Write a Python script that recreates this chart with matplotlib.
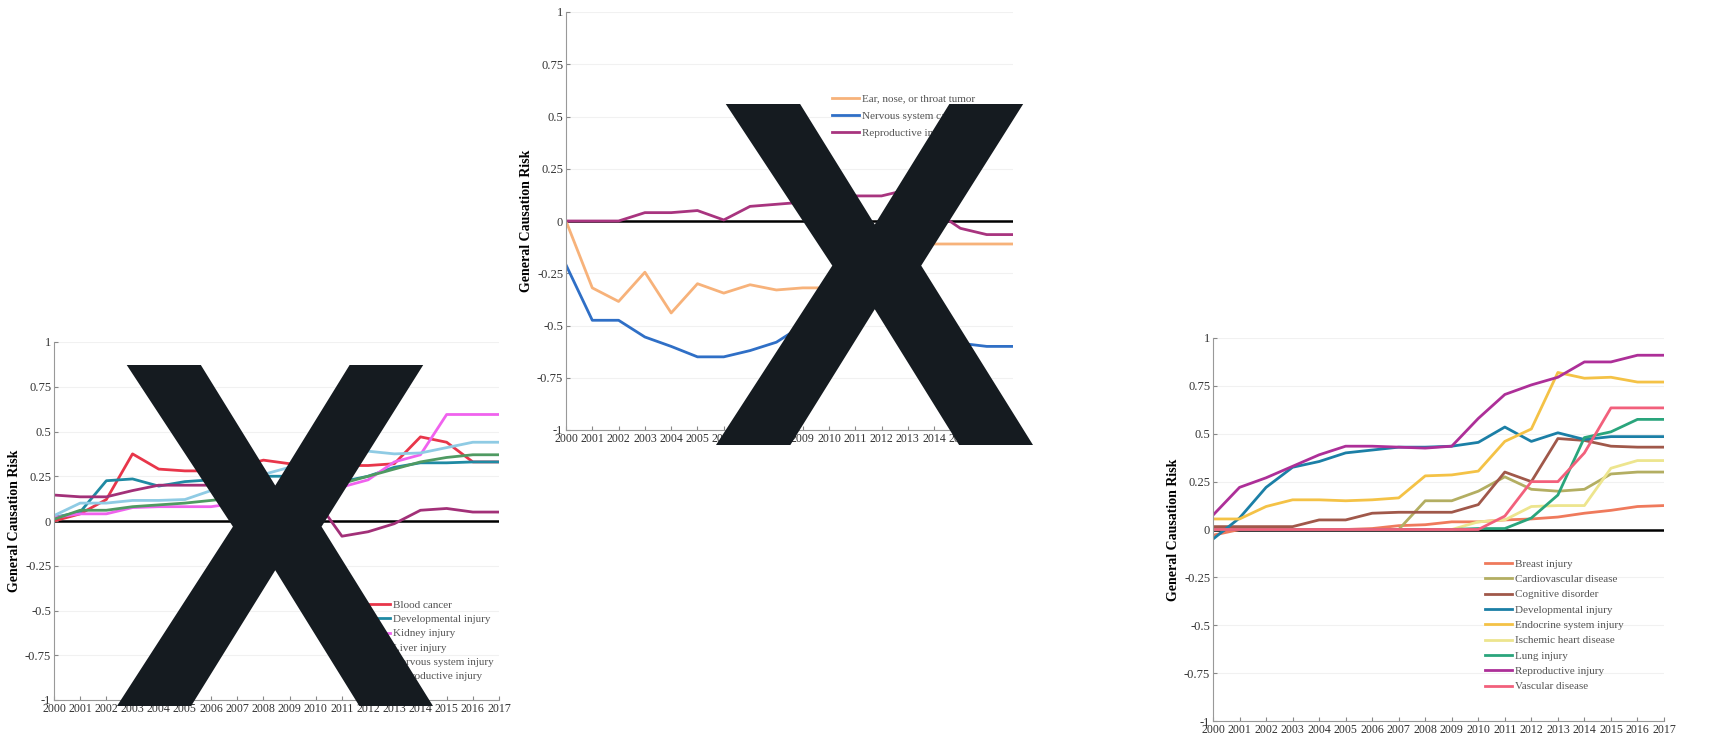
import matplotlib.pyplot as plt
from matplotlib.font_manager import FontProperties
from matplotlib.patches import PathPatch
from matplotlib.textpath import TextPath
from matplotlib.transforms import Affine2D, IdentityTransform

years = list(range(2000, 2018))
year_labels = [str(y) for y in years]
y_ticks = [-1, -0.75, -0.5, -0.25, 0, 0.25, 0.5, 0.75, 1]
y_tick_labels = ["-1", "-0.75", "-0.5", "-0.25", "0", "0.25", "0.5", "0.75", "1"]

# panel izquierdo
left_names = ["Blood cancer", "Developmental injury", "Kidney injury", "Liver injury",
              "Nervous system injury", "Reproductive injury"]
left_colors = ["#e8364a", "#1f8aa3", "#f062ee", "#4f9a62", "#8fcbe4", "#a23078"]
blood_cancer = [0.0, 0.04, 0.12, 0.375, 0.29, 0.28, 0.28, 0.30, 0.34, 0.32, 0.31, 0.31, 0.31, 0.32, 0.47, 0.44, 0.33, 0.33]
developmental_l = [0.02, 0.05, 0.225, 0.235, 0.195, 0.22, 0.23, 0.24, 0.25, 0.25, 0.24, 0.22, 0.25, 0.30, 0.325, 0.325, 0.33, 0.33]
kidney = [0.02, 0.04, 0.04, 0.075, 0.08, 0.08, 0.08, 0.10, 0.12, 0.14, 0.16, 0.19, 0.23, 0.33, 0.37, 0.595, 0.595, 0.595]
liver = [0.01, 0.06, 0.06, 0.08, 0.09, 0.10, 0.115, 0.13, 0.15, 0.17, 0.19, 0.21, 0.25, 0.29, 0.33, 0.355, 0.37, 0.37]
nervous = [0.03, 0.10, 0.10, 0.115, 0.115, 0.12, 0.17, 0.22, 0.26, 0.30, 0.33, 0.36, 0.39, 0.375, 0.38, 0.41, 0.44, 0.44]
reproductive_l = [0.145, 0.135, 0.135, 0.17, 0.20, 0.20, 0.20, 0.19, 0.17, 0.15, 0.12, -0.085, -0.06, -0.015, 0.06, 0.07, 0.05, 0.05]
left_series = [blood_cancer, developmental_l, kidney, liver, nervous, reproductive_l]

# panel central
mid_names = ["Ear, nose, or throat tumor", "Nervous system cancer", "Reproductive injury"]
mid_colors = ["#f7b27a", "#2f6fc6", "#a8347f"]
ent_tumor = [0.0, -0.32, -0.385, -0.245, -0.44, -0.30, -0.345, -0.305, -0.33, -0.32, -0.32, -0.31, -0.355, -0.07, -0.11, -0.11, -0.11, -0.11]
nervous_cancer = [-0.21, -0.475, -0.475, -0.555, -0.60, -0.65, -0.65, -0.62, -0.58, -0.50, -0.30, -0.10, -0.275, -0.455, -0.525, -0.585, -0.60, -0.60]
reproductive_m = [0.0, 0.0, 0.0, 0.04, 0.04, 0.05, 0.005, 0.07, 0.08, 0.09, 0.11, 0.12, 0.12, 0.15, 0.05, -0.035, -0.065, -0.065]
mid_series = [ent_tumor, nervous_cancer, reproductive_m]

# panel derecho
right_names = ["Breast injury", "Cardiovascular disease", "Cognitive disorder", "Developmental injury",
               "Endocrine system injury", "Ischemic heart disease", "Lung injury",
               "Reproductive injury", "Vascular disease"]
right_colors = ["#ef7a5c", "#b3ae62", "#a0584a", "#1b7fa6", "#f4c246", "#ede58e", "#2aa57c",
                "#ad2f98", "#f2607c"]
breast = [-0.03, 0.0, 0.0, 0.0, 0.0, 0.0, 0.005, 0.02, 0.025, 0.04, 0.04, 0.05, 0.055, 0.065, 0.085, 0.10, 0.12, 0.125]
cardio = [0.0, 0.0, 0.0, 0.0, 0.0, 0.0, 0.0, 0.0, 0.15, 0.15, 0.20, 0.275, 0.21, 0.20, 0.21, 0.29, 0.30, 0.30]
cognitive = [0.015, 0.015, 0.015, 0.015, 0.05, 0.05, 0.085, 0.09, 0.09, 0.09, 0.13, 0.30, 0.25, 0.475, 0.465, 0.435, 0.43, 0.43]
developmental_r = [-0.05, 0.06, 0.22, 0.325, 0.355, 0.40, 0.415, 0.43, 0.43, 0.435, 0.455, 0.535, 0.46, 0.505, 0.47, 0.485, 0.485, 0.485]
endocrine = [0.055, 0.055, 0.12, 0.155, 0.155, 0.15, 0.155, 0.165, 0.28, 0.285, 0.305, 0.46, 0.525, 0.82, 0.79, 0.795, 0.77, 0.77]
ischemic = [0.0, 0.0, 0.0, 0.0, 0.0, 0.0, 0.0, 0.0, 0.0, 0.0, 0.04, 0.05, 0.12, 0.125, 0.125, 0.32, 0.36, 0.36]
lung = [0.0, 0.0, 0.0, 0.0, 0.0, 0.0, 0.0, 0.0, 0.0, 0.0, 0.005, 0.005, 0.06, 0.18, 0.48, 0.51, 0.575, 0.575]
reproductive_r = [0.075, 0.22, 0.27, 0.33, 0.39, 0.435, 0.435, 0.43, 0.425, 0.435, 0.58, 0.705, 0.755, 0.795, 0.875, 0.875, 0.91, 0.91]
vascular = [0.0, 0.0, 0.0, 0.0, 0.0, 0.0, 0.0, 0.0, 0.0, 0.0, 0.0, 0.07, 0.25, 0.25, 0.40, 0.635, 0.635, 0.635]
right_series = [breast, cardio, cognitive, developmental_r, endocrine, ischemic, lung, reproductive_r, vascular]

W, H = 1724, 740
fig = plt.figure(figsize=(W / 100, H / 100), dpi=100)
fig.patch.set_facecolor("white")
serif = ["Liberation Serif", "DejaVu Serif"]


def panel(px_left, px_top, px_right, px_bottom, nombres, colores, series, leg_xy, espacio):
    ancho = px_right - px_left
    alto = px_bottom - px_top
    eje = fig.add_axes([px_left / W, 1 - px_bottom / H, ancho / W, alto / H])
    for y in y_ticks:
        eje.axhline(y, color="#f1f1f1", lw=0.8, zorder=0)
    eje.axhline(0, color="black", lw=1.8, zorder=1)
    for nombre, color, valores in zip(nombres, colores, series):
        eje.plot(years, valores, color=color, lw=2.0, label=nombre, zorder=2)
    eje.set_xlim(2000, 2017)
    eje.set_ylim(-1, 1)
    eje.set_xticks(years)
    eje.set_xticklabels(year_labels, fontfamily=serif, fontsize=8.6, color="#333333")
    eje.set_yticks(y_ticks)
    eje.set_yticklabels(y_tick_labels, fontfamily=serif, fontsize=9, color="#333333")
    eje.tick_params(direction="in", length=3, color="#888888", pad=2)
    eje.spines["top"].set_visible(False)
    eje.spines["right"].set_visible(False)
    eje.spines["left"].set_color("#999999")
    eje.spines["bottom"].set_color("#999999")
    eje.set_ylabel("General Causation Risk", fontfamily=serif, fontsize=10, fontweight="bold", labelpad=3)
    # esquina superior izquierda de la leyenda en pixeles
    ancla = ((leg_xy[0] - px_left) / ancho, (px_bottom - leg_xy[1]) / alto)
    leg = eje.legend(loc="upper left", bbox_to_anchor=ancla, frameon=False,
                     prop={"family": serif, "size": 8}, handlelength=2.4, labelspacing=espacio,
                     handletextpad=0.3, borderaxespad=0, borderpad=0)
    for texto in leg.get_texts():
        texto.set_color("#555555")
    return eje


panel(54, 342, 499, 700, left_names, left_colors, left_series, (363, 600), 0.41)
panel(566, 12, 1013, 430, mid_names, mid_colors, mid_series, (832, 94), 0.66)
panel(1213, 338, 1664, 721, right_names, right_colors, right_series, (1485, 559), 0.5)

# marcas X superpuestas, ajustadas a su caja en pixeles
letra = TextPath((0, 0), "X", size=100, prop=FontProperties(family="Liberation Sans", weight="bold"))
ext = letra.get_extents()
for x0, y0, x1, y1 in [(117, 365, 433, 706), (716, 104, 1033, 445)]:
    t = (Affine2D().translate(-ext.x0, -ext.y0)
         .scale((x1 - x0) / ext.width, (y1 - y0) / ext.height)
         .translate(x0, H - y1))
    marca = PathPatch(t.transform_path(letra), facecolor="#151b20", edgecolor="none",
                      transform=IdentityTransform(), zorder=10)
    fig.add_artist(marca)

fig.savefig("out.png", dpi=100, facecolor="white")
